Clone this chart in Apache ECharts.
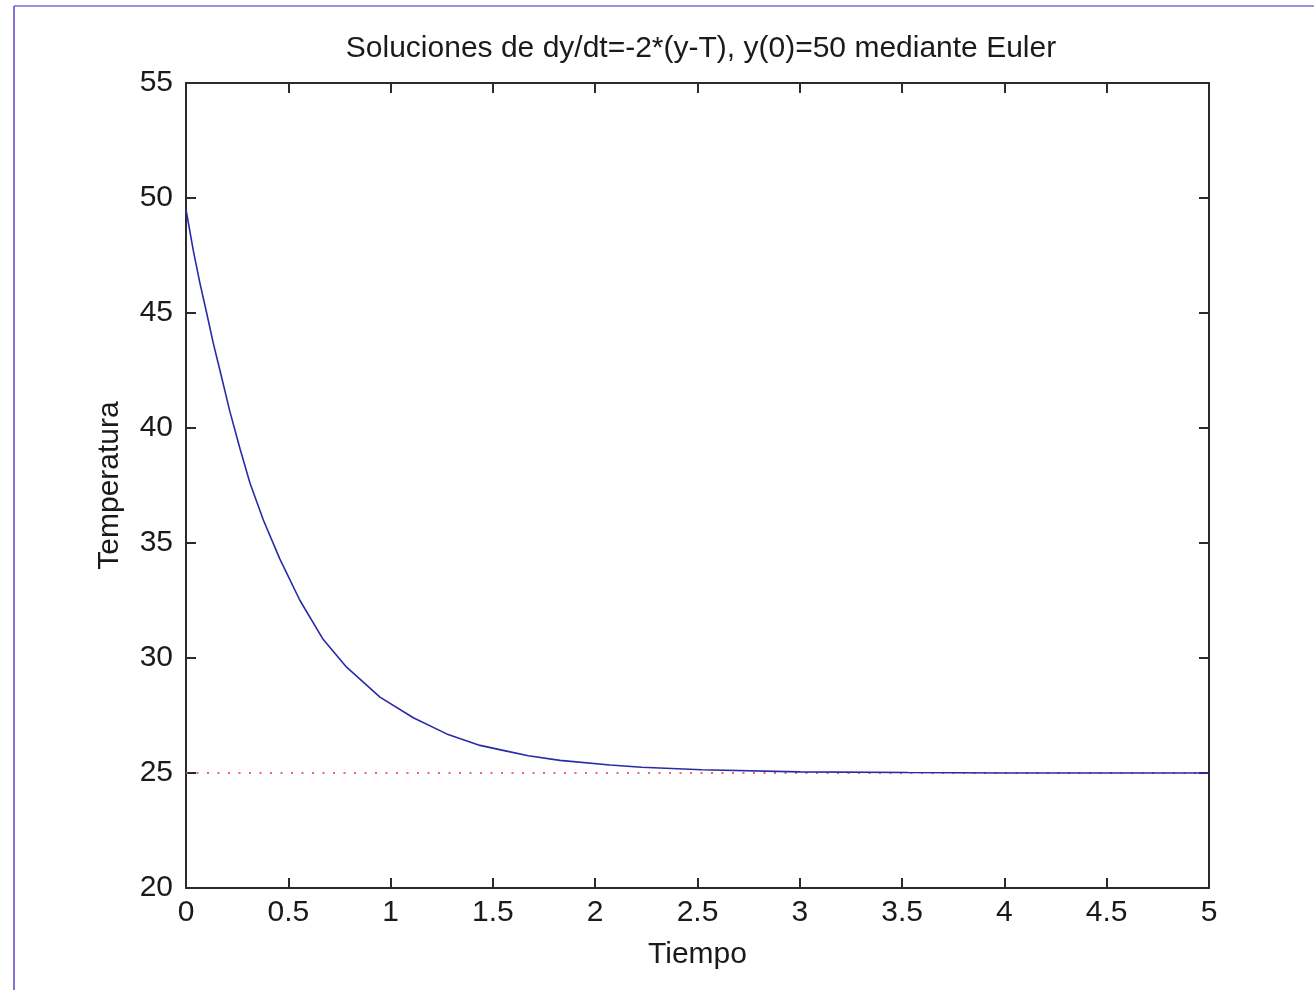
<!DOCTYPE html>
<html>
<head>
<meta charset="utf-8">
<title>Euler</title>
<script src="https://cdn.jsdelivr.net/npm/echarts@6/dist/echarts.min.js"></script>
<style>
  html, body { margin: 0; padding: 0; background: #fff; }
  #chart { width: 1314px; height: 990px; }
</style>
</head>
<body>
<div id="chart"></div>
<script>
// datos
var tiempo = [0, 0.036, 0.068, 0.101, 0.133, 0.166, 0.215, 0.264, 0.313, 0.378, 0.459, 0.557, 0.671, 0.785, 0.948,
    1.111, 1.274, 1.437, 1.567, 1.673, 1.828, 2.072, 2.227, 2.52, 3.0, 3.53, 4.0, 4.5, 5.0];
var temperatura = [49.5, 47.7, 46.3, 45.0, 43.7, 42.5, 40.7, 39.1, 37.6, 36.0, 34.3, 32.5, 30.8, 29.6, 28.3,
    27.4, 26.7, 26.2, 25.95, 25.75, 25.55, 25.35, 25.25, 25.14, 25.05, 25.02, 25.0, 25.0, 25.0];
var tiempoAmb = [0, 5];
var tempAmb = [25, 25];

var fuente = 'Liberation Sans';
var chart = echarts.init(document.getElementById('chart'));

var curva = [];
for (var i = 0; i < tiempo.length; i++) {
    curva.push([tiempo[i], temperatura[i]]);
}
var ambiente = [];
for (var i = 0; i < tiempoAmb.length; i++) {
    ambiente.push([tiempoAmb[i], tempAmb[i]]);
}

var lineaEje = { show: true, onZero: false, lineStyle: { color: '#2b2b2b', width: 2 } };
var ticks = { show: true, inside: true, length: 10, lineStyle: { color: '#2b2b2b', width: 2 } };

var option = {
    animation: false,
    backgroundColor: '#fff',
    title: {
        text: 'Soluciones de dy/dt=-2*(y-T), y(0)=50 mediante Euler',
        left: 696,
        top: 29,
        textAlign: 'center',
        textStyle: { fontFamily: fuente, fontSize: 30, fontWeight: 'normal', color: '#1a1a1a' }
    },
    grid: { left: 186, right: 105, top: 83, bottom: 102 },
    graphic: [
        { type: 'line', shape: { x1: 14, y1: 6, x2: 1314, y2: 6 }, style: { stroke: '#a58be6', lineWidth: 2 } },
        { type: 'line', shape: { x1: 14, y1: 6, x2: 14, y2: 990 }, style: { stroke: '#8a6fd8', lineWidth: 2 } }
    ],
    xAxis: [
        {
            type: 'value', position: 'bottom', min: 0, max: 5, interval: 0.5,
            name: 'Tiempo', nameLocation: 'middle', nameGap: 52,
            nameTextStyle: { fontFamily: fuente, fontSize: 30, color: '#1a1a1a' },
            axisLine: lineaEje, axisTick: ticks, splitLine: { show: false },
            axisLabel: { fontFamily: fuente, fontSize: 30, color: '#1a1a1a', margin: 10 }
        },
        {
            type: 'value', position: 'top', min: 0, max: 5, interval: 0.5,
            axisLine: lineaEje, axisTick: ticks, splitLine: { show: false },
            axisLabel: { show: false }
        }
    ],
    yAxis: [
        {
            type: 'value', position: 'left', min: 20, max: 55, interval: 5,
            name: 'Temperatura', nameLocation: 'middle', nameGap: 61,
            nameTextStyle: { fontFamily: fuente, fontSize: 30, color: '#1a1a1a' },
            axisLine: lineaEje, axisTick: ticks, splitLine: { show: false },
            axisLabel: { fontFamily: fuente, fontSize: 30, color: '#1a1a1a', margin: 13 }
        },
        {
            type: 'value', position: 'right', min: 20, max: 55, interval: 5,
            axisLine: lineaEje, axisTick: ticks, splitLine: { show: false },
            axisLabel: { show: false }
        }
    ],
    series: [
        {
            type: 'line',
            data: ambiente,
            showSymbol: false,
            lineStyle: { color: '#e03a3a', width: 1.5, type: [2, 8.5] },
            z: 1
        },
        {
            type: 'line',
            data: curva,
            showSymbol: false,
            lineStyle: { color: '#2a2aa6', width: 1.6 },
            z: 2
        }
    ]
};
chart.setOption(option);
</script>
</body>
</html>
